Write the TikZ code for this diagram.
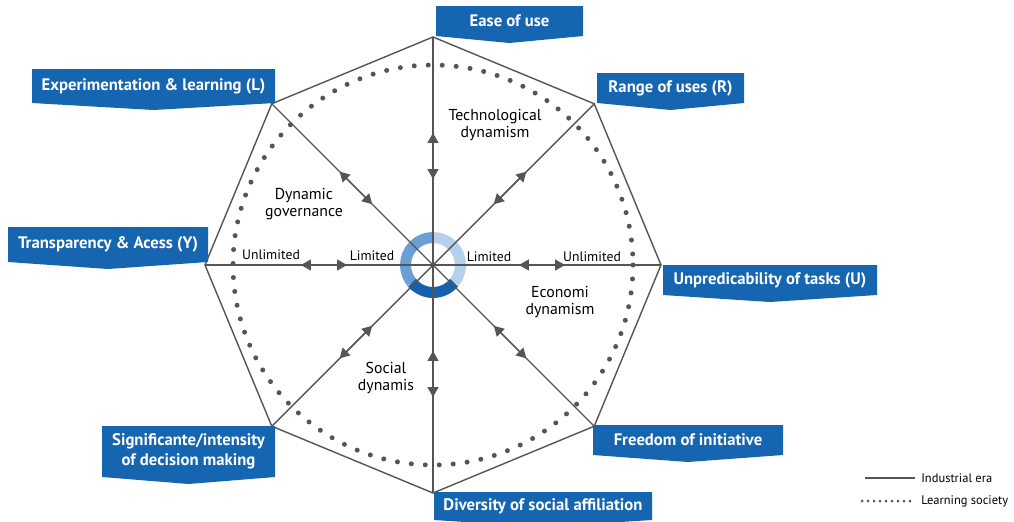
\documentclass[tikz,border=0pt]{standalone}
\usepackage{fontspec}
\setmainfont{PT Sans}
\usetikzlibrary{arrows.meta,calc}
\definecolor{bannerblue}{HTML}{1565B0}
\definecolor{ringdark}{HTML}{1660AE}
\definecolor{ringmid}{HTML}{6A9FD6}
\definecolor{ringlight}{HTML}{B5D0EA}
\definecolor{linegray}{HTML}{555555}

\begin{document}
\begin{tikzpicture}[x=0.02cm, y=-0.02cm,
    axis/.style={draw=linegray, line width=0.8pt},
    dots/.style={draw=linegray, line width=0.1cm, line cap=round, dash pattern=on 0pt off 0.28cm},
    legdots/.style={draw=linegray, line width=0.06cm, line cap=round, dash pattern=on 0pt off 0.12cm},
    tips/.style={axis, {Triangle[length=5.6pt,width=6.2pt]}-{Triangle[length=5.6pt,width=6.2pt]}},
    small/.style={font=\fontsize{7.8}{9}\selectfont, inner sep=0pt},
    legend/.style={font=\fontsize{7.1}{8}\selectfont, inner sep=0pt},
    dyn/.style={font=\fontsize{9}{9.5}\selectfont, align=center, inner sep=0pt},
    banner/.style={fill=bannerblue},
    bannertext/.style={text=white, font=\bfseries\fontsize{9.5}{11.3}\selectfont, align=center, inner sep=0pt}]

    \useasboundingbox (0,0) rectangle (1014,521);

    \coordinate (c) at (433,265);
    \foreach \i in {0,...,7}
        \coordinate (v\i) at ($(c)+(-\i*45:228)$);

    % ring in the middle
    \draw[ringmid, line width=0.22cm] ($(c)+(-90:27.5)$) arc (-90:-220:27.5);
    \draw[ringlight, line width=0.22cm] ($(c)+(-90:27.5)$) arc (-90:40:27.5);
    \draw[ringdark, line width=0.22cm] ($(c)+(40:27.5)$) arc (40:140:27.5);

    % octagon and spokes
    \draw[axis] (v0) -- (v1) -- (v2) -- (v3) -- (v4) -- (v5) -- (v6) -- (v7) -- cycle;
    \foreach \i in {0,...,7} {
        \draw[axis] (c) -- (v\i);
        \draw[tips] ($(c)+(-\i*45:86)$) -- ($(c)+(-\i*45:132)$);
    }
    \draw[dots] (c) circle (200);

    % banners
    \foreach \name/\l/\t/\r/\b/\txt in {
        ease/436/6/583/36/{Ease of use},
        range/597/73/744/103/{Range of uses (R)},
        exper/32/69/275/103/{Experimentation \& learning (L)},
        transp/8/227/208/262/{Transparency \& Acess (Y)},
        unpred/663/265/877/295/{Unpredicability of tasks (U)},
        freedom/593/425/783/455/{Freedom of initiative},
        divers/434/492/652/520/{Diversity of social affiliation},
        signif/102/426/275/477/{Significante/intensity\\of decision making}} {
        \fill[banner] (\l,\t) -- (\r,\t) -- (\r,\b) -- ({(\l+\r)/2},{\b+7}) -- (\l,\b) -- cycle;
        \node[bannertext] (\name) at ({(\l+\r)/2},{(\t+\b)/2}) {\txt};
    }

    % dimension labels
    \node[dyn] (tech) at (495,125) {Technological\\dynamism};
    \node[dyn] (gov) at (304,204) {Dynamic\\governance};
    \node[dyn] (econ) at (560,302) {Economi\\dynamism};
    \node[dyn] (soc) at (386,378) {Social\\dynamis};
    \node[small] (unlimL) at (271,255) {Unlimited};
    \node[small] (limL) at (372,256) {Limited};
    \node[small] (limR) at (489,257) {Limited};
    \node[small] (unlimR) at (592,257) {Unlimited};

    % legend
    \coordinate (la) at (865,478);
    \coordinate (lb) at (862,501);
    \node[legend, anchor=west] (lg1) at (921,478) {Industrial era};
    \node[legend, anchor=west] (lg2) at (921,501) {Learning society};
    \draw[axis] (la) -- (915,478);
    \draw[legdots] (lb) -- (911,501);
\end{tikzpicture}
\end{document}
